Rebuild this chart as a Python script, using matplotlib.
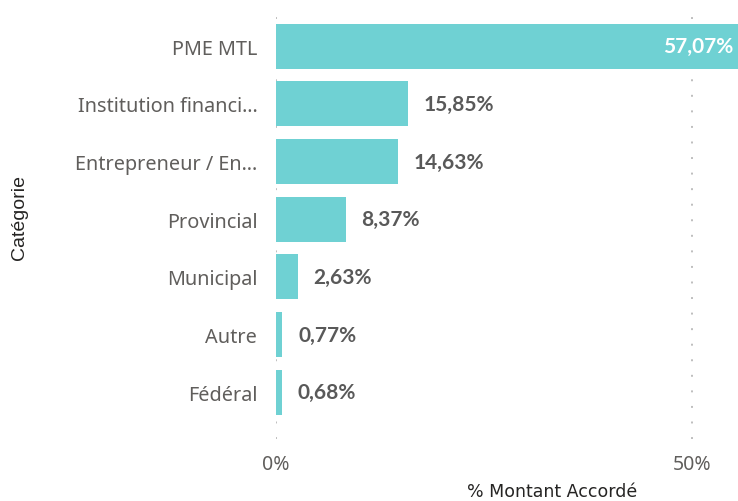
import matplotlib.pyplot as plt

categories = ['PME MTL', 'Institution financi…', 'Entrepreneur / En…', 'Provincial',
              'Municipal', 'Autre', 'Fédéral']
values = [57.07, 15.85, 14.63, 8.37, 2.63, 0.77, 0.68]
labels = ['57,07%', '15,85%', '14,63%', '8,37%', '2,63%', '0,77%', '0,68%']

bar_color = '#6FD1D3'
text_grey = '#605E5C'
label_grey = '#595959'

fig = plt.figure(figsize=(7.38, 5.02), dpi=100)
ax = fig.add_axes([0.374, 0.1235, 0.626, 0.8525])

y = list(range(len(categories)))
ax.barh(y, values, height=0.78, color=bar_color, zorder=2)

xmax = 55.5
ax.set_xlim(0, xmax)
ax.set_ylim(6.81, -0.607)

# data labels: inside for the clipped bar, outside otherwise
for i, (v, lab) in enumerate(zip(values, labels)):
    if v > xmax * 0.8:
        ax.text(xmax - 0.6, i, lab, ha='right', va='center', color='white',
                fontsize=15, fontweight='bold', family='Lato')
    else:
        ax.text(v + 1.9, i, lab, ha='left', va='center', color=label_grey,
                fontsize=15, fontweight='bold', family='Lato')

ax.set_yticks(y)
ax.set_yticklabels(categories, fontsize=14.3, color=text_grey, family='Noto Sans')
ax.set_xticks([0, 50])
ax.set_xticklabels(['0%', '50%'], fontsize=14, color=text_grey, family='Noto Sans')
ax.tick_params(axis='y', length=0, pad=13.5)
ax.tick_params(axis='x', length=0, pad=11)

ax.grid(axis='x', color='#BEBEBE', linestyle=(0, (1, 7)), linewidth=1.4, zorder=0)
for s in ax.spines.values():
    s.set_visible(False)

fig.text(0.748, 0.02, '% Montant Accordé', ha='center', va='center',
         fontsize=12.5, color='#252423', family='DejaVu Sans')
fig.text(0.027, 0.566, 'Catégorie', rotation=90, ha='center', va='center',
         fontsize=14, color='#252423', family='Liberation Sans')

fig.savefig('out.png', dpi=100)
